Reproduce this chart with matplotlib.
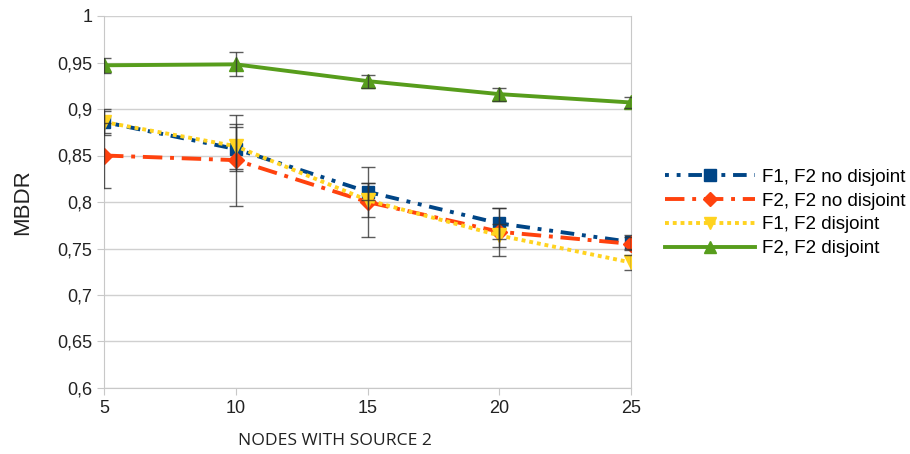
import numpy as np
import matplotlib.pyplot as plt

nodes = [5, 10, 15, 20, 25]

f1_nodis = [0.886, 0.857, 0.811, 0.777, 0.757]
f1_nodis_err = [0.0135, 0.024, 0.009, 0.017, 0.008]

f2_nodis = [0.850, 0.845, 0.800, 0.768, 0.755]
f2_nodis_err = [0.035, 0.049, 0.038, 0.026, 0.007]

f1_dis = [0.886, 0.860, 0.802, 0.764, 0.735]
f1_dis_err = [0.012, 0.024, 0.018, 0.012, 0.008]

f2_dis = [0.947, 0.948, 0.930, 0.916, 0.907]
f2_dis_err = [0.008, 0.013, 0.007, 0.007, 0.006]

plt.rcParams['font.family'] = ['Liberation Sans', 'DejaVu Sans']

fig = plt.figure(figsize=(9.1, 4.54), dpi=100)
ax = fig.add_axes([104/910, 1-388/454, (631-104)/910, (388-16)/454])

series = [
    (f1_nodis, f1_nodis_err, "F1, F2 no disjoint", "#004586", (0, (1, 2, 1, 2, 3.5, 2)), "s", 9),
    (f2_nodis, f2_nodis_err, "F2, F2 no disjoint", "#ff420e", (0, (5, 2, 1, 2)), "D", 8),
    (f1_dis, f1_dis_err, "F1, F2 disjoint", "#ffd320", (0, (1, 1)), "v", 10),
    (f2_dis, f2_dis_err, "F2, F2 disjoint", "#579d1c", "-", "^", 10),
]
for vals, err, name, col, ls, mk, ms in series:
    ax.plot(nodes, vals, color=col, linestyle=ls, linewidth=2.8, marker=mk,
            markersize=ms, label=name, zorder=3)
    ax.errorbar(nodes, vals, yerr=err, fmt='none', ecolor='#333333',
                elinewidth=1, capsize=5, capthick=1, alpha=0.8, zorder=4)

ax.set_xlim(5, 25)
ax.set_ylim(0.6, 1.0)
ax.set_xticks(nodes)
ax.set_yticks(np.arange(0.6, 1.001, 0.05))
ax.set_yticklabels([f"{v:.2f}".rstrip('0').rstrip('.').replace('.', ',') for v in np.arange(0.6, 1.001, 0.05)])
ax.grid(axis='y', color='#d0d0d0', linewidth=1)
ax.set_axisbelow(True)
ax.spines['top'].set_visible(False)
for s in ['left', 'right', 'bottom']:
    ax.spines[s].set_color('#c8c8c8')
ax.tick_params(axis='both', colors='#c8c8c8', labelcolor='#222222', labelsize=13, length=5)
ax.set_ylabel("MBDR", fontsize=16, color='#222222')
ax.yaxis.set_label_coords((33-104)/527, 0.5)
ax.set_xlabel("NODES WITH SOURCE 2", fontsize=12.6, family='Open Sans', color='#222222')
ax.xaxis.set_label_coords((335-104)/527, -45/372)

ax.legend(loc='center left', bbox_to_anchor=(648/910, 1-213/454), bbox_transform=fig.transFigure,
          frameon=False, fontsize=13.5, handlelength=4.8, labelspacing=0.35,
          handletextpad=0.37, markerscale=0.9)

fig.savefig("out.png", dpi=100)
